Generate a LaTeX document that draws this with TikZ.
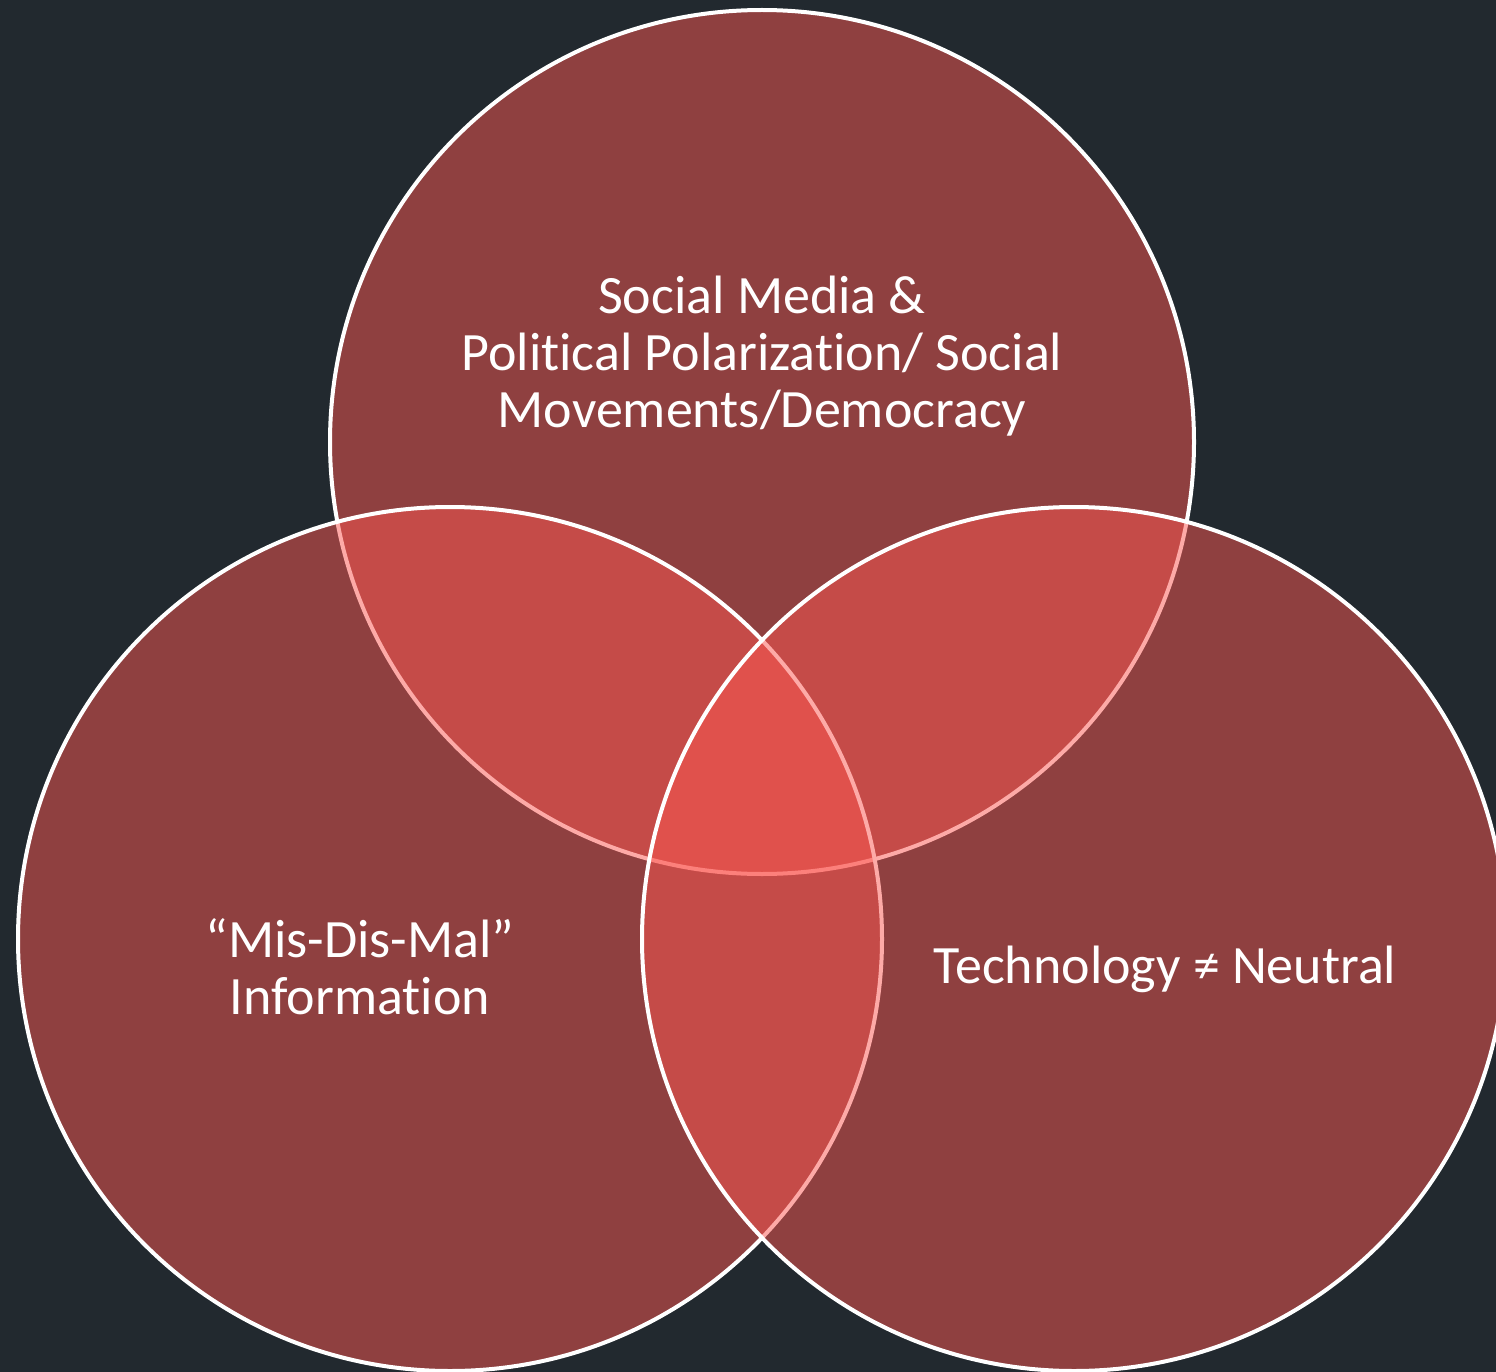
\documentclass[tikz,border=0pt]{standalone}
\usepackage{fontspec}
\setmainfont{Carlito}[Ligatures=NoCommon]
\definecolor{bgc}{RGB}{34,41,47}
\definecolor{vennred}{RGB}{252,87,81}
\begin{document}
\begin{tikzpicture}[x=1pt,y=-1pt,
  venn/.style={circle, minimum size=864pt, inner sep=0pt, draw=white, line width=4pt, fill=vennred, fill opacity=0.5},
  lbl/.style={text=white, align=center, inner sep=0pt, font=\fontsize{54}{57}\selectfont}]
\fill[bgc] (0,0) rectangle (1496,1372);
\useasboundingbox (0,0) rectangle (1496,1372);
\node[venn] (top) at (762,442) {};
\node[venn] (left) at (450,939) {};
\node[venn] (right) at (1074,939) {};
\node[lbl] (ttop) at (762,356) {Social Media \&\\Political Polarization/ Social\\Movements/Democracy};
\node[lbl] (tleft) at (360,967) {“Mis-Dis-Mal”\\Information};
\node[lbl, anchor=base] (tright) at (1165,983) {Technology ≠ Neutral};
\end{tikzpicture}
\end{document}
